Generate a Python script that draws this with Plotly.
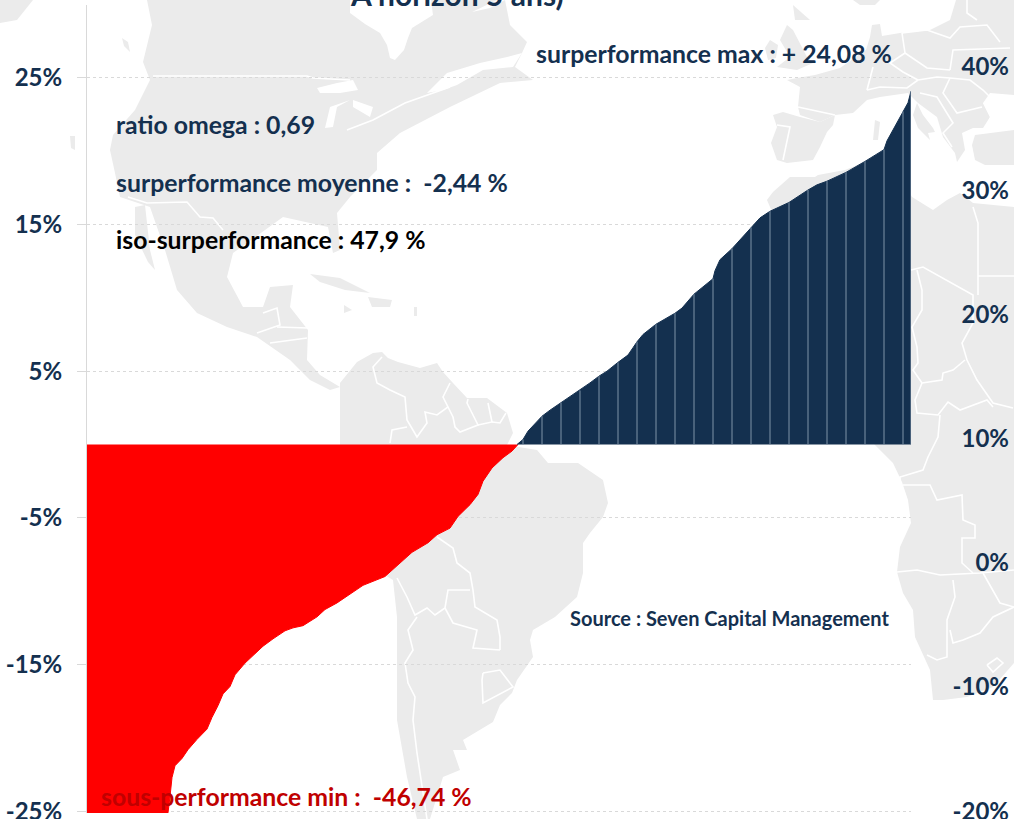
import plotly.graph_objects as go

W, H = 1014, 819
FONT = "Lato"
NAVY = "#14304f"
MAP_GRAY = "#ebebeb"

# ---------- data ----------
red_rank = [0, 20, 50, 81, 83, 85, 88, 95, 101, 110, 120, 125, 131, 136, 143, 148, 158, 166, 176, 186, 198, 206,
            216, 230, 238, 250, 263, 276, 298, 315, 325, 341, 350, 363, 371, 383, 391, 396, 405, 416, 425, 431]
red_value = [-46.74, -36, -29, -25.1, -24, -22.7, -21.9, -21.4, -20.8, -20.1, -19.4, -18.6, -17.8, -17.0, -16.5,
             -15.7, -14.9, -14.4, -13.75, -13.25, -12.7, -12.5, -12.35, -11.75, -11.25, -10.8, -10.2, -9.6, -9.0,
             -7.95, -7.35, -6.7, -6.15, -5.7, -4.9, -4.1, -3.4, -2.5, -1.6, -0.9, -0.45, 0]
blue_rank = [430, 436, 441, 446, 455, 463, 474, 483, 493, 503, 512, 520, 531, 541, 546, 550, 556, 569, 588, 595, 607,
             626, 628, 633, 645, 658, 664, 673, 683, 702, 721, 730, 740, 759, 778, 797, 800, 810, 816, 821, 824]
blue_value = [0, 0.34, 0.91, 1.30, 1.93, 2.34, 2.85, 3.25, 3.68, 4.20, 4.66, 5.0, 5.6, 6.1, 6.6, 7.0, 7.5, 8.2, 8.95,
              9.3, 10.25, 11.3, 11.85, 12.6, 13.35, 14.3, 14.8, 15.45, 15.9, 16.5, 17.35, 17.7, 17.95, 18.55, 19.3,
              20.1, 20.7, 21.9, 22.7, 23.3, 24.08]
stripe_ranks = [436, 455, 474, 493, 512, 531, 550, 569, 588, 607, 626, 645, 664, 683, 702, 721, 740, 759, 778, 797, 816, 824]
left_ticks = [-25, -15, -5, 5, 15, 25]
left_labels = ["-25%", "-15%", "-5%", "5%", "15%", "25%"]
right_ticks = [-20, -10, 0, 10, 20, 30, 40]
right_labels = ["-20%", "-10%", "0%", "10%", "20%", "30%", "40%"]

# ---------- decorative background map (page pixels) ----------
LAND = [
    [(0, 23), (17, 20), (33, 0), (0, 0)],
    [(70, 136), (75, 136), (75, 150), (71, 148)],
    [(122, 38), (128, 42), (130, 52), (124, 46)],
    [(147, 0), (152, 25), (143, 62), (150, 80), (135, 110), (113, 135), (110, 150), (115, 173), (120, 197), (150, 207),
     (165, 250), (177, 290), (197, 313), (227, 327), (257, 337), (290, 360), (310, 380), (330, 390), (340, 387),
     (320, 375), (307, 360), (308, 330), (290, 307), (293, 285), (270, 287), (263, 307), (243, 307), (227, 277),
     (233, 253), (283, 217), (328, 227), (333, 253), (340, 250), (337, 213), (350, 197), (377, 170), (377, 153),
     (400, 133), (450, 107), (500, 83), (533, 80), (515, 67), (522, 53), (527, 42), (510, 25), (505, 0)],
    [(135, 207), (145, 205), (150, 250), (155, 270), (148, 262), (135, 235)],
    [(310, 274), (340, 278), (370, 293), (345, 290), (320, 282)],
    [(368, 297), (392, 300), (390, 307), (372, 307)],
    [(344, 305), (352, 310), (344, 313)],
    [(414, 307), (417, 307), (417, 316), (414, 316)],
    [(340, 383), (357, 362), (373, 353), (382, 352), (388, 358), (398, 362), (420, 368), (437, 363), (443, 372),
     (453, 383), (467, 398), (487, 398), (507, 413), (513, 433), (507, 445), (537, 450), (548, 463), (578, 463),
     (603, 480), (608, 503), (603, 517), (590, 533), (583, 543), (583, 573), (577, 597), (555, 617), (533, 630),
     (530, 640), (533, 657), (517, 680), (512, 693), (500, 705), (493, 722), (463, 740), (467, 750), (453, 750),
     (460, 770), (443, 777), (430, 819), (417, 819), (407, 777), (397, 720), (397, 617), (393, 580), (385, 575),
     (340, 460)],
    [(773, 115), (783, 112), (800, 117), (820, 122), (835, 115), (833, 125), (827, 132), (820, 147), (813, 160),
     (787, 163), (777, 160), (771, 143), (777, 127)],
    [(787, 80), (797, 78), (815, 75), (840, 68), (866, 50), (870, 37), (872, 25), (880, 24), (882, 36), (900, 33),
     (930, 30), (950, 20), (956, 0), (1014, 0), (1014, 95), (990, 93), (983, 103), (990, 117), (983, 128), (973, 128),
     (962, 133), (965, 150), (957, 162), (955, 153), (943, 137), (937, 117), (918, 103), (908, 93), (880, 97),
     (867, 100), (853, 113), (835, 115), (820, 122), (800, 115), (798, 107), (800, 87)],
    [(917, 103), (923, 115), (933, 128), (935, 132), (928, 133), (930, 140), (918, 128), (913, 115)],
    [(975, 135), (1014, 130), (1014, 165), (985, 165), (975, 160), (972, 145)],
    [(787, 25), (793, 30), (807, 57), (813, 63), (797, 70), (777, 67), (790, 57), (780, 40)],
    [(770, 40), (778, 45), (776, 58), (768, 60), (765, 48)],
    [(793, 5), (810, 20), (795, 20)],
    [(853, 0), (880, 0), (875, 5), (860, 5)],
    [(875, 120), (880, 122), (878, 140), (873, 140)],
    [(767, 200), (773, 192), (790, 177), (815, 177), (818, 175), (845, 170), (865, 162), (885, 152), (905, 185),
     (912, 197), (933, 210), (947, 200), (960, 193), (973, 203), (1014, 207), (1014, 663), (993, 687), (967, 697),
     (943, 700), (933, 700), (930, 670), (915, 637), (913, 610), (903, 593), (897, 572), (900, 547), (911, 523),
     (908, 500), (902, 482), (893, 463), (880, 450), (870, 440)],
]
WATER = [
    [(350, 0), (350, 13), (365, 24), (380, 33), (387, 45), (390, 58), (395, 60), (404, 50), (408, 38), (412, 28),
     (433, 15), (431, 0)],
    [(472, 12), (497, 0), (505, 0), (490, 8)],
    [(427, 93), (447, 73), (480, 63), (507, 57), (522, 53), (513, 67), (483, 70), (457, 85), (443, 90)],
    [(317, 88), (337, 83), (353, 80), (358, 90), (340, 93), (320, 93)],
    [(325, 128), (333, 127), (337, 107), (350, 100), (330, 107)],
    [(353, 100), (373, 107), (370, 117), (353, 107)],
    [(983, 103), (1014, 97), (1014, 128), (985, 128), (990, 117)],
]
BORDERS = [
    [(153, 76), (307, 76), (313, 78), (350, 80)],
    [(347, 130), (373, 120), (405, 103), (450, 87)],
    [(128, 197), (147, 203), (187, 202), (200, 217), (213, 218), (223, 230)],
    [(263, 313), (277, 308), (280, 325), (257, 333)],
    [(277, 327), (308, 328)],
    [(270, 343), (307, 338)],
    [(382, 357), (373, 367), (377, 383), (390, 390), (405, 397), (407, 420), (417, 437), (427, 423), (425, 412),
     (437, 415), (448, 407), (443, 397), (450, 383)],
    [(448, 407), (453, 417), (455, 427), (460, 432), (478, 425), (472, 413), (467, 403), (468, 399)],
    [(478, 425), (492, 422), (488, 403)],
    [(492, 422), (500, 423), (506, 413)],
    [(390, 443), (392, 430), (407, 427)],
    [(437, 537), (453, 548), (457, 563), (470, 573), (473, 590), (475, 607), (497, 620), (500, 637), (500, 650)],
    [(397, 578), (407, 597), (415, 615), (427, 608), (435, 615), (445, 608), (448, 590), (470, 590)],
    [(445, 608), (453, 623), (477, 630), (473, 648), (500, 650)],
    [(417, 617), (408, 630), (413, 650), (405, 663), (408, 683), (415, 697), (413, 720), (417, 753), (427, 819)],
    [(483, 673), (500, 670), (513, 687), (483, 703), (482, 680), (483, 673)],
    [(777, 125), (790, 127), (783, 160)],
    [(835, 115), (798, 107)],
    [(902, 33), (905, 53), (890, 63), (903, 72), (918, 80)],
    [(905, 53), (927, 68), (950, 70)],
    [(902, 33), (927, 30), (950, 38), (960, 27), (987, 25), (1000, 42)],
    [(950, 70), (953, 50), (1010, 48)],
    [(918, 80), (937, 77), (950, 78), (970, 80), (983, 90), (990, 97)],
    [(950, 78), (943, 93), (957, 113), (982, 107)],
    [(920, 93), (937, 97), (953, 123), (943, 133), (952, 147)],
    [(867, 90), (880, 87), (907, 88), (918, 80)],
    [(873, 67), (867, 90)],
    [(967, 0), (967, 13), (977, 20)],
    [(911, 270), (923, 267), (973, 295), (973, 323), (962, 343), (967, 360), (977, 380), (993, 403), (1013, 408)],
    [(973, 207), (978, 223), (978, 295)],
    [(978, 276), (1014, 276)],
    [(917, 270), (922, 290), (922, 310), (912, 327), (917, 347), (918, 363), (913, 370), (922, 383)],
    [(922, 383), (942, 380), (943, 373), (953, 370), (965, 360)],
    [(922, 383), (915, 400), (917, 413), (938, 415), (948, 402), (960, 410), (987, 400), (993, 407)],
    [(940, 415), (938, 437), (928, 457), (923, 470), (900, 477), (900, 490)],
    [(903, 485), (930, 485), (937, 500), (962, 495), (963, 520), (975, 525), (975, 538), (962, 538), (962, 563), (973, 573)],
    [(897, 572), (917, 570), (940, 575), (980, 573), (1014, 570)],
    [(983, 573), (1000, 603), (1014, 607)],
    [(953, 580), (955, 597), (947, 620), (947, 657), (937, 660), (927, 655)],
    [(950, 630), (953, 643), (963, 640), (980, 633), (993, 617), (1014, 607)],
    [(987, 665), (997, 658), (1003, 663), (993, 672), (987, 665)],
]


def page_path(pts, close):
    p = "M " + " L ".join(f"{x / W:.5f},{1 - y / H:.5f}" for x, y in pts)
    return p + " Z" if close else p


shapes = []
for poly in LAND:
    shapes.append(dict(type="path", path=page_path(poly, True), xref="paper", yref="paper", layer="below",
                       fillcolor=MAP_GRAY, line=dict(width=0)))
for poly in WATER:
    shapes.append(dict(type="path", path=page_path(poly, True), xref="paper", yref="paper", layer="below",
                       fillcolor="white", line=dict(width=0)))
for line in BORDERS:
    shapes.append(dict(type="path", path=page_path(line, False), xref="paper", yref="paper", layer="below",
                       line=dict(color="white", width=1.6)))

# ---------- traces ----------
stripe_x, stripe_y = [], []
for r, v in zip(blue_rank, blue_value):
    if r in stripe_ranks:
        stripe_x += [r, r, None]
        stripe_y += [0, v, None]

fig = go.Figure()
fig.add_trace(go.Scatter(x=red_rank, y=red_value, mode="lines", fill="tozeroy", fillcolor="#ff0000",
                         line=dict(color="#ff0000", width=1), showlegend=False))
fig.add_trace(go.Scatter(x=blue_rank, y=blue_value, mode="lines", fill="tozeroy", fillcolor=NAVY,
                         line=dict(color=NAVY, width=1), showlegend=False))
fig.add_trace(go.Scatter(x=stripe_x, y=stripe_y, mode="lines", line=dict(color="#7f93a8", width=1), showlegend=False))
fig.add_trace(go.Scatter(x=[None], y=[None], yaxis="y2", showlegend=False))


def note(text, x, y, size=24.8, color=NAVY, anchor="left"):
    return dict(text=text, x=x / W, y=1 - y / H, xref="paper", yref="paper", xanchor=anchor, yanchor="middle",
                showarrow=False, font=dict(family=FONT, size=size, color=color), borderpad=0, borderwidth=0)


annotations = [
    note("<b>A horizon 5 ans)</b>", 350, -6, 30),
    note("<b>surperformance max : + 24,08 %</b>", 536, 54),
    note("<b>ratio omega : 0,69</b>", 116, 124),
    note("<b>surperformance moyenne :  -2,44 %</b>", 116, 182),
    note("<b>iso-surperformance : 47,9 %</b>", 116, 239, color="#000000"),
    note("<b>sous-performance min :  -46,74 %</b>", 101, 796, color="#c00000"),
    note("<b>Source : Seven Capital Management</b>", 570, 618, 20),
]

fig.update_layout(
    width=W, height=H, margin=dict(l=0, r=0, t=0, b=0, autoexpand=False), paper_bgcolor="white",
    plot_bgcolor="rgba(0,0,0,0)", showlegend=False, shapes=shapes, annotations=annotations,
    xaxis=dict(domain=[87 / W, 911 / W], range=[0, 824], visible=False, fixedrange=True, automargin=False),
    yaxis=dict(domain=[1 - 813 / H, 1 - 5 / H], range=[-25.12, 29.96], tickvals=left_ticks, ticktext=left_labels,
               automargin=False, showgrid=True, gridcolor="#d9d9d9", griddash="dot", gridwidth=1, zeroline=False,
               showline=True, linecolor="#d9d9d9", linewidth=1, ticks="outside", ticklen=9, tickcolor="#d9d9d9",
               ticklabelstandoff=10, ticklabeloverflow="allow",
               tickfont=dict(family=FONT, size=24, color=NAVY, weight="bold"), fixedrange=True),
    yaxis2=dict(overlaying="y", domain=[1 - 813 / H, 1 - 5 / H], anchor="free", side="left", position=1009 / W,
                range=[-20.15, 44.96], tickvals=right_ticks, ticktext=right_labels, showgrid=False, zeroline=False,
                automargin=False, showline=False, ticks="", ticklabeloverflow="allow",
                tickfont=dict(family=FONT, size=24, color=NAVY, weight="bold"), fixedrange=True),
)

fig.write_html("out.html", config=dict(displayModeBar=False),
               post_script="document.body.style.margin='0';document.documentElement.style.overflow='hidden';"
                           "document.body.style.overflow='hidden';")
